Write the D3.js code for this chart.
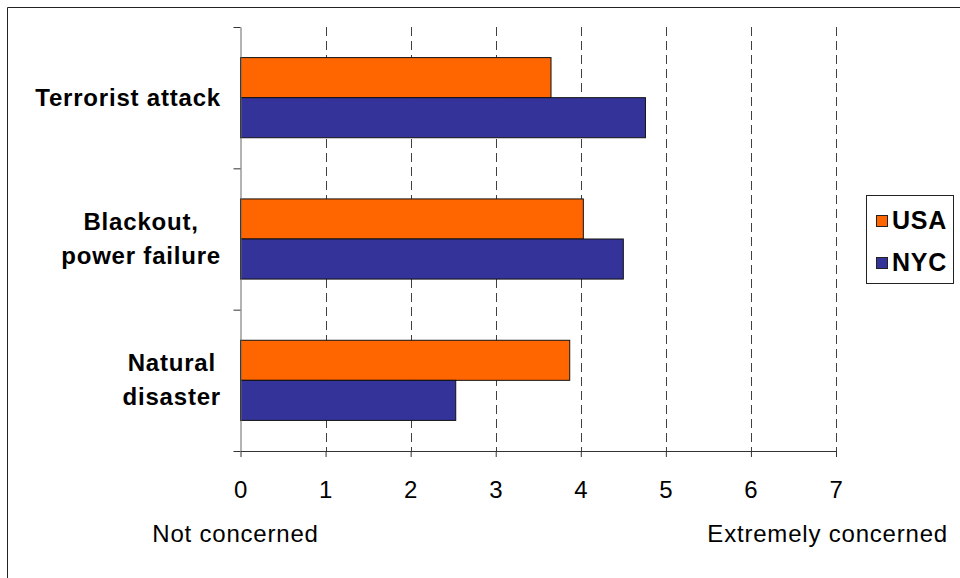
<!DOCTYPE html>
<html>
<head>
<meta charset="utf-8">
<script src="https://cdn.jsdelivr.net/npm/d3@7"></script>
<style>
  html, body { margin: 0; padding: 0; background: #fff; }
  svg { display: block; font-family: "Liberation Sans", Arial, sans-serif; }
</style>
</head>
<body>
<svg id="chart" width="960" height="578"></svg>
<script>
// Level of concern about three kinds of emergency, USA vs. NYC (0–7 scale)
const categories = ["Terrorist attack", "Blackout, power failure", "Natural disaster"];
const categoryLines = [["Terrorist attack"], ["Blackout,", "power failure"], ["Natural", "disaster"]];
const seriesNames = ["USA", "NYC"];
const usaValues = [3.65, 4.03, 3.87];
const nycValues = [4.76, 4.50, 2.53];
const xTickValues = [0, 1, 2, 3, 4, 5, 6, 7];
const scaleEndLabels = ["Not concerned", "Extremely concerned"];
const seriesColors = ["#FF6600", "#333399"];

const svg = d3.select("#chart");
const W = 960, H = 578;
const plot = { left: 240.5, right: 836, top: 27, bottom: 451 };
const FONT = 24, LS = 0.8;

// outer chart frame (left and top edges are inside the page)
svg.append("path")
  .attr("d", `M7.5,${H}V7.5H${W}`)
  .attr("fill", "none").attr("stroke", "#222").attr("stroke-width", 1);

const x = d3.scaleLinear().domain([0, 7]).range([plot.left, plot.right]);
const y = d3.scaleBand().domain(categories)
  .range([plot.top, plot.bottom])
  .paddingInner(0.433).paddingOuter(0.2165);
const ySeries = d3.scaleBand().domain(seriesNames).range([0, y.bandwidth()]);

const rows = categories.map((c, i) => ({ category: c, lines: categoryLines[i], values: [usaValues[i], nycValues[i]] }));

// dashed vertical gridlines
svg.append("g")
  .selectAll("line")
  .data(xTickValues.filter(v => v > 0))
  .join("line")
  .attr("x1", d => Math.round(x(d)) + 0.5).attr("x2", d => Math.round(x(d)) + 0.5)
  .attr("y1", plot.top).attr("y2", plot.bottom)
  .attr("stroke", "#404040").attr("stroke-width", 1)
  .attr("stroke-dasharray", "9,5");

// bars
const groups = svg.append("g").selectAll("g")
  .data(rows).join("g")
  .attr("transform", d => `translate(0,${y(d.category)})`);
groups.selectAll("rect")
  .data(d => d.values.map((v, j) => ({ series: seriesNames[j], value: v, color: seriesColors[j] })))
  .join("rect")
  .attr("x", x(0))
  .attr("y", d => ySeries(d.series))
  .attr("width", d => x(d.value) - x(0))
  .attr("height", ySeries.bandwidth())
  .attr("fill", d => d.color)
  .attr("stroke", "#111").attr("stroke-width", 1);

// x axis
const xAxis = svg.append("g")
  .attr("transform", `translate(0,${plot.bottom})`)
  .call(d3.axisBottom(x).tickValues(xTickValues).tickSize(6).tickSizeOuter(0).tickFormat(d3.format("d")));
xAxis.select(".domain").attr("stroke", "#333");
xAxis.selectAll(".tick line").attr("stroke", "#333");
xAxis.selectAll(".tick text")
  .attr("y", 47).attr("dy", 0)
  .attr("fill", "#000")
  .style("font-size", FONT + "px")
  .style("font-family", '"Liberation Sans", Arial, sans-serif')
  .style("letter-spacing", LS + "px");

// y axis with ticks at the category boundaries
const yEdge = d3.scaleLinear().domain([0, categories.length]).range([plot.top, plot.bottom]);
const yAxis = svg.append("g")
  .attr("transform", `translate(${plot.left},0)`)
  .call(d3.axisLeft(yEdge).tickValues(d3.range(categories.length + 1)).tickSize(7).tickSizeOuter(0).tickFormat(""));
yAxis.select(".domain").attr("stroke", "#666");
yAxis.selectAll(".tick line").attr("stroke", "#333");

// category labels: lines centred on each other, block right-aligned to the axis
const labelRight = 221;
rows.forEach(r => {
  const cy = y(r.category) + y.bandwidth() / 2;
  const g = svg.append("g");
  const texts = g.selectAll("text").data(r.lines).join("text")
    .attr("font-size", FONT).attr("font-weight", "bold")
    .style("letter-spacing", LS + "px")
    .attr("fill", "#000")
    .text(d => d);
  const widths = [];
  texts.each(function () { widths.push(this.getComputedTextLength()); });
  const maxW = d3.max(widths);
  const n = r.lines.length;
  texts
    .attr("text-anchor", "middle")
    .attr("x", labelRight - maxW / 2)
    .attr("y", (d, i) => n === 1 ? cy + 8.5 : cy - 9.5 + i * 34.5);
});

// scale end labels
svg.append("text")
  .attr("x", 235.5).attr("y", 541.5)
  .attr("text-anchor", "middle")
  .attr("font-size", FONT).style("letter-spacing", LS + "px")
  .text(scaleEndLabels[0]);
svg.append("text")
  .attr("x", 948).attr("y", 541.5)
  .attr("text-anchor", "end")
  .attr("font-size", FONT).style("letter-spacing", LS + "px")
  .text(scaleEndLabels[1]);

// legend
const legend = svg.append("g");
legend.append("rect")
  .attr("x", 866.5).attr("y", 195.5).attr("width", 87).attr("height", 88)
  .attr("fill", "#fff").attr("stroke", "#222").attr("stroke-width", 1);
const legendRows = legend.selectAll("g.item")
  .data(seriesNames).join("g").attr("class", "item")
  .attr("transform", (d, i) => `translate(0,${i * 42})`);
legendRows.append("rect")
  .attr("x", 876.5).attr("y", 215.5).attr("width", 11).attr("height", 11)
  .attr("fill", (d, i) => seriesColors[i])
  .attr("stroke", "#222").attr("stroke-width", 1);
legendRows.append("text")
  .attr("x", 892).attr("y", 229)
  .attr("font-size", 25).attr("font-weight", "bold")
  .style("letter-spacing", "0.8px")
  .text(d => d);
</script>
</body>
</html>
